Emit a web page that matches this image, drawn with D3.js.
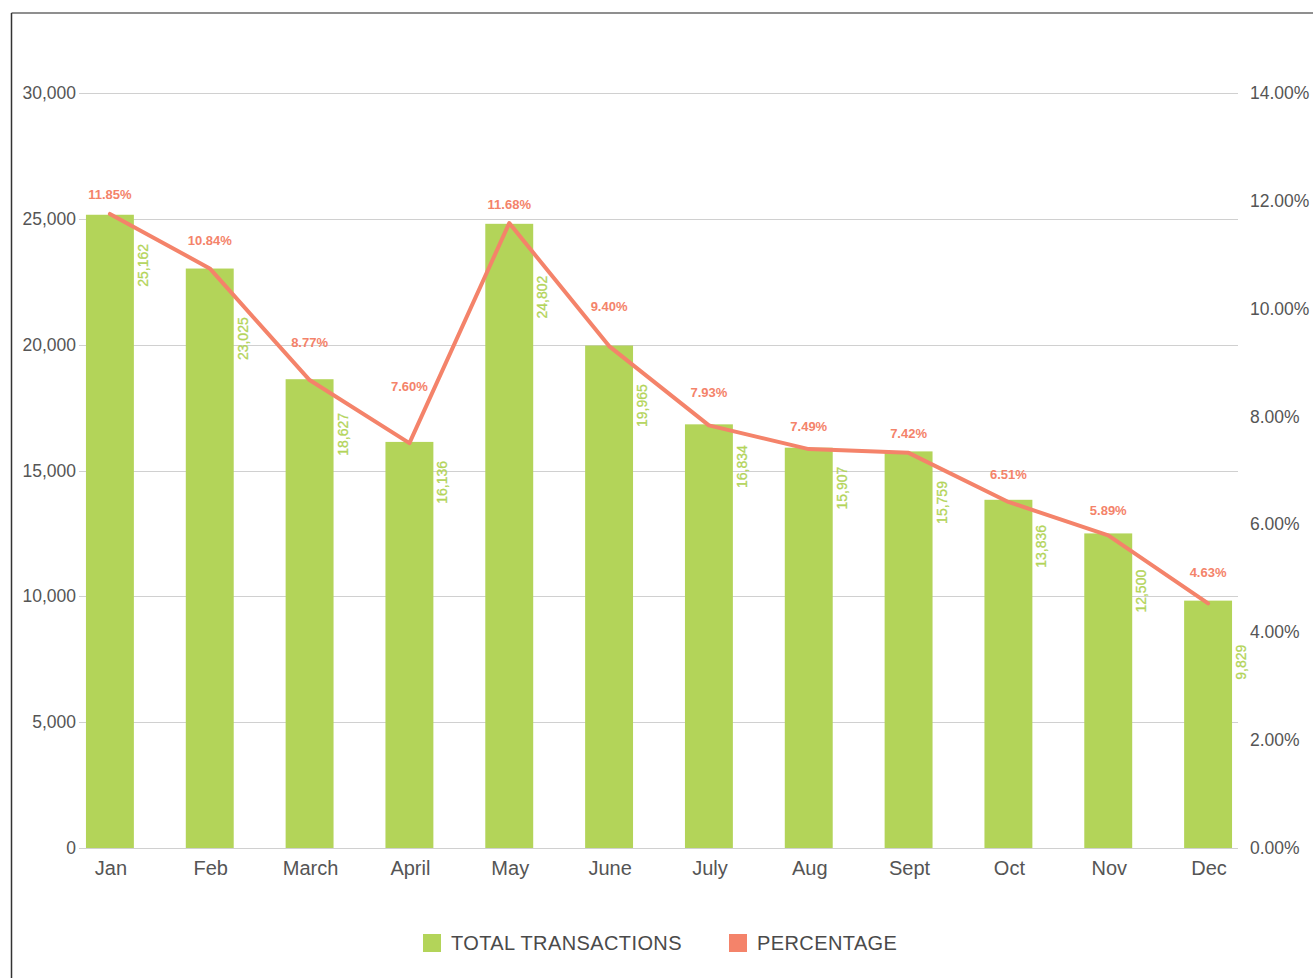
<!DOCTYPE html>
<html lang="en">
<head>
  <meta charset="UTF-8">
  <title>Transactions by Month</title>
  <script src="https://d3js.org/d3.v7.min.js"></script>
  <style>
    body { margin: 0; background: #fff; }
    svg { display: block; font-family: "Liberation Sans", Arial, sans-serif; }
    .grid line { stroke: #d0d0d0; stroke-width: 1; }
    .tick-label { fill: #555; font-size: 17.5px; }
    .month-label { fill: #555; font-size: 20px; }
    .pct-label { fill: #f4836a; font-size: 13px; font-weight: bold; }
    .bar-label { fill: #b3d459; font-size: 14px; stroke: #b3d459; stroke-width: 0.3px; }
    .legend-text { fill: #4a4a4a; font-size: 20px; letter-spacing: 0.4px; }
  </style>
</head>
<body>
<div id="chart"></div>
<script>
  // data
  const months = ["Jan", "Feb", "March", "April", "May", "June", "July", "Aug", "Sept", "Oct", "Nov", "Dec"];
  const transactions = [25162, 23025, 18627, 16136, 24802, 19965, 16834, 15907, 15759, 13836, 12500, 9829];
  const percentages = [11.85, 10.84, 8.77, 7.60, 11.68, 9.40, 7.93, 7.49, 7.42, 6.51, 5.89, 4.63];
  const leftTicks = [0, 5000, 10000, 15000, 20000, 25000, 30000];
  const rightTicks = [0, 2, 4, 6, 8, 10, 12, 14];
  const legendItems = ["TOTAL TRANSACTIONS", "PERCENTAGE"];

  const W = 1313, H = 978;
  const green = "#b3d459", salmon = "#f4836a";

  const svg = d3.select("#chart").append("svg")
    .attr("width", W)
    .attr("height", H);

  // frame (top + left edge only)
  svg.append("line").attr("x1", 11.5).attr("x2", W).attr("y1", 13).attr("y2", 13)
    .attr("stroke", "#6a6a6a").attr("stroke-width", 1.5);
  svg.append("line").attr("x1", 11.5).attr("x2", 11.5).attr("y1", 13).attr("y2", H)
    .attr("stroke", "#333").attr("stroke-width", 1.5);

  const x = d3.scaleBand()
    .domain(months)
    .range([60, 1258])
    .paddingInner(0.52)
    .paddingOuter(0.26);

  const y = d3.scaleLinear().domain([0, 30000]).range([848, 93]);
  const yR = d3.scaleLinear().domain([0, 14]).range([848, 93]);
  // the percentage line sits a few px lower than the right axis in the original
  const yLine = d3.scaleLinear().domain([0, 14]).range([853, 98]);

  // gridlines
  svg.append("g").attr("class", "grid")
    .selectAll("line")
    .data(leftTicks)
    .join("line")
    .attr("x1", 79).attr("x2", 1238)
    .attr("y1", d => Math.round(y(d)) + 0.5)
    .attr("y2", d => Math.round(y(d)) + 0.5);

  // left axis labels
  svg.append("g").selectAll("text")
    .data(leftTicks)
    .join("text")
    .attr("class", "tick-label")
    .attr("x", 76)
    .attr("y", d => y(d))
    .attr("text-anchor", "end")
    .attr("dominant-baseline", "central")
    .text(d => d3.format(",")(d));

  // right axis labels
  svg.append("g").selectAll("text")
    .data(rightTicks)
    .join("text")
    .attr("class", "tick-label")
    .attr("x", 1250)
    .attr("y", d => yR(d))
    .attr("text-anchor", "start")
    .attr("dominant-baseline", "central")
    .text(d => d.toFixed(2) + "%");

  const rows = months.map((m, i) => ({ month: m, total: transactions[i], pct: percentages[i] }));

  // bars
  svg.append("g").selectAll("rect")
    .data(rows)
    .join("rect")
    .attr("x", d => x(d.month))
    .attr("y", d => y(d.total))
    .attr("width", x.bandwidth())
    .attr("height", d => y(0) - y(d.total))
    .attr("fill", green);

  // month labels
  svg.append("g").selectAll("text")
    .data(rows)
    .join("text")
    .attr("class", "month-label")
    .attr("x", d => x(d.month) + x.bandwidth() / 2 + 1)
    .attr("y", 868)
    .attr("text-anchor", "middle")
    .attr("dominant-baseline", "central")
    .text(d => d.month);

  // percentage line
  const pts = rows.map(d => [x(d.month) + x.bandwidth() / 2, yLine(d.pct)]);
  svg.append("path")
    .attr("d", d3.line()(pts))
    .attr("fill", "none")
    .attr("stroke", salmon)
    .attr("stroke-width", 4)
    .attr("stroke-linejoin", "round")
    .attr("stroke-linecap", "round");

  function lineAt(px) {
    for (let i = 0; i < pts.length - 1; i++) {
      const [x0, y0] = pts[i], [x1, y1] = pts[i + 1];
      if (px >= x0 && px <= x1) return y0 + (y1 - y0) * (px - x0) / (x1 - x0);
    }
    return null;
  }

  // bar value labels, rotated, pushed below where the line crosses them
  svg.append("g").selectAll("text")
    .data(rows)
    .join("text")
    .attr("class", "bar-label")
    .attr("transform", d => {
      const cx = x(d.month) + x.bandwidth() + 9;
      const barTop = y(d.total);
      const ly = lineAt(cx);
      const top = ly === null ? barTop + 44 : Math.max(barTop + 7, ly) + 12;
      return `translate(${cx},${top}) rotate(-90)`;
    })
    .attr("text-anchor", "end")
    .attr("dominant-baseline", "central")
    .text(d => d3.format(",")(d.total));

  // percentage labels above the points, lifted more where the line climbs next to them
  svg.append("g").selectAll("text")
    .data(rows)
    .join("text")
    .attr("class", "pct-label")
    .attr("x", (d, i) => pts[i][0])
    .attr("y", (d, i) => {
      const py = pts[i][1];
      let rise = 0;
      if (i > 0) rise = Math.max(rise, py - pts[i - 1][1]);
      if (i < pts.length - 1) rise = Math.max(rise, py - pts[i + 1][1]);
      return py - 19 - 0.17 * rise;
    })
    .attr("text-anchor", "middle")
    .attr("dominant-baseline", "central")
    .text(d => d.pct.toFixed(2) + "%");

  // legend
  const legendX = [423, 729];
  const legend = svg.append("g").selectAll("g")
    .data(legendItems)
    .join("g")
    .attr("transform", (d, i) => `translate(${legendX[i]},934)`);
  legend.append("rect")
    .attr("width", 18).attr("height", 18)
    .attr("fill", (d, i) => i === 0 ? green : salmon);
  legend.append("text")
    .attr("class", "legend-text")
    .attr("x", 28)
    .attr("y", 9)
    .attr("dominant-baseline", "central")
    .text(d => d);
</script>
</body>
</html>
